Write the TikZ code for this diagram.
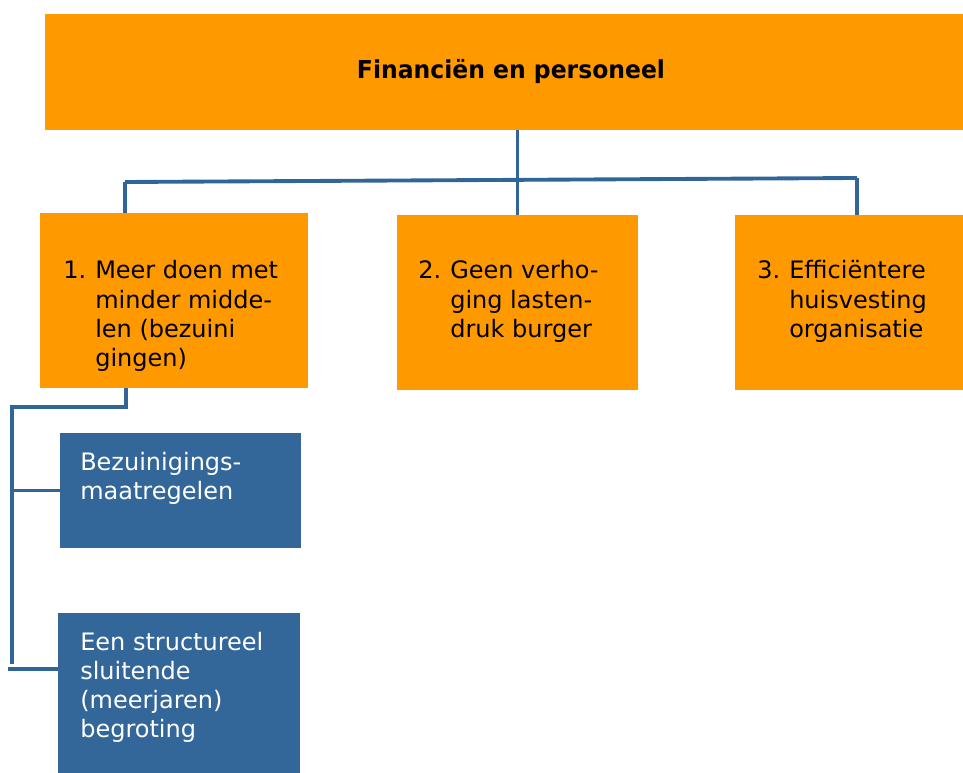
\documentclass[tikz,border=0pt]{standalone}
\usepackage{fontspec}
\usepackage{graphicx}
\setmainfont{DejaVu Sans}
\definecolor{boxorange}{HTML}{FF9900}
\definecolor{boxblue}{HTML}{336699}
\definecolor{linkblue}{HTML}{316598}
\tikzset{
  obox/.style={fill=boxorange, draw=none, inner sep=0pt, minimum height=131.25pt},
  bbox/.style={fill=boxblue, draw=none, inner sep=0pt},
  txt/.style={anchor=base west, inner sep=0pt, font=\fontsize{18}{21.9}\selectfont},
  conn/.style={draw=linkblue, line width=2.9pt}
}
\newcommand{\numlbl}[1]{\makebox[24pt][l]{#1}}
\begin{document}
\begin{tikzpicture}[x=0.75pt,y=-0.75pt]
\useasboundingbox (0,0) rectangle (963,773);
% boxes
\node[obox, minimum width=688.5pt, minimum height=87pt] (top) at (504,72) {};
\node[obox, minimum width=201pt] (b1) at (174,300.5) {};
\node[obox, minimum width=180.75pt] (b2) at (517.5,302.5) {};
\node[obox, minimum width=171pt] (b3) at (849,302.5) {};
\node[bbox, minimum width=180.75pt, minimum height=86.25pt] (s1) at (180.5,490.5) {};
\node[bbox, minimum width=181.5pt, minimum height=120pt] (s2) at (179,693) {};
% texts
\node[anchor=base, inner sep=0pt, font=\fontsize{18.5}{21}\selectfont\bfseries] (t0) at (511,79)
  {\resizebox{231pt}{\height}{Financiën en personeel}};
\node[txt] (t1) at (63,279) {\begin{tabular}[t]{@{}l@{}l@{}}
  \numlbl{1.} & Meer doen met\\ & minder midde-\\ & len (bezuini\\ & gingen)\end{tabular}};
\node[txt] (t2) at (418,279) {\begin{tabular}[t]{@{}l@{}l@{}}
  \numlbl{2.} & Geen verho-\\ & ging lasten-\\ & druk burger\end{tabular}};
\node[txt] (t3) at (757,279) {\begin{tabular}[t]{@{}l@{}l@{}}
  \numlbl{3.} & Efficiëntere\\ & huisvesting\\ & organisatie\end{tabular}};
\node[txt, text=white] (t4) at (80,470) {\begin{tabular}[t]{@{}l@{}}
  Bezuinigings-\\ maatregelen\end{tabular}};
\node[txt, text=white] (t5) at (80,650) {\begin{tabular}[t]{@{}l@{}}
  Een structureel\\ sluitende\\ (meerjaren)\\ begroting\end{tabular}};
% connector coordinates
\coordinate (hl) at (125,182);
\coordinate (hr) at (857,178);
\coordinate (lb) at (126,407);
\coordinate (lc) at (12,407);
\coordinate (ld) at (12,664);
\coordinate (le) at (8,669);
% connectors
\draw[conn] (top.south -| b2.north) -- (b2.north);
\draw[conn] (hl) -- (hr);
\draw[conn] (hl) -- (hl |- b1.north);
\draw[conn] (hr) -- (hr |- b3.north);
\draw[conn] (b1.south -| lb) -- (lb) -- (lc) -- (ld);
\draw[conn] (lc |- s1.west) -- (s1.west);
\draw[conn] (le) -- (le -| s2.west);
\end{tikzpicture}
\end{document}
